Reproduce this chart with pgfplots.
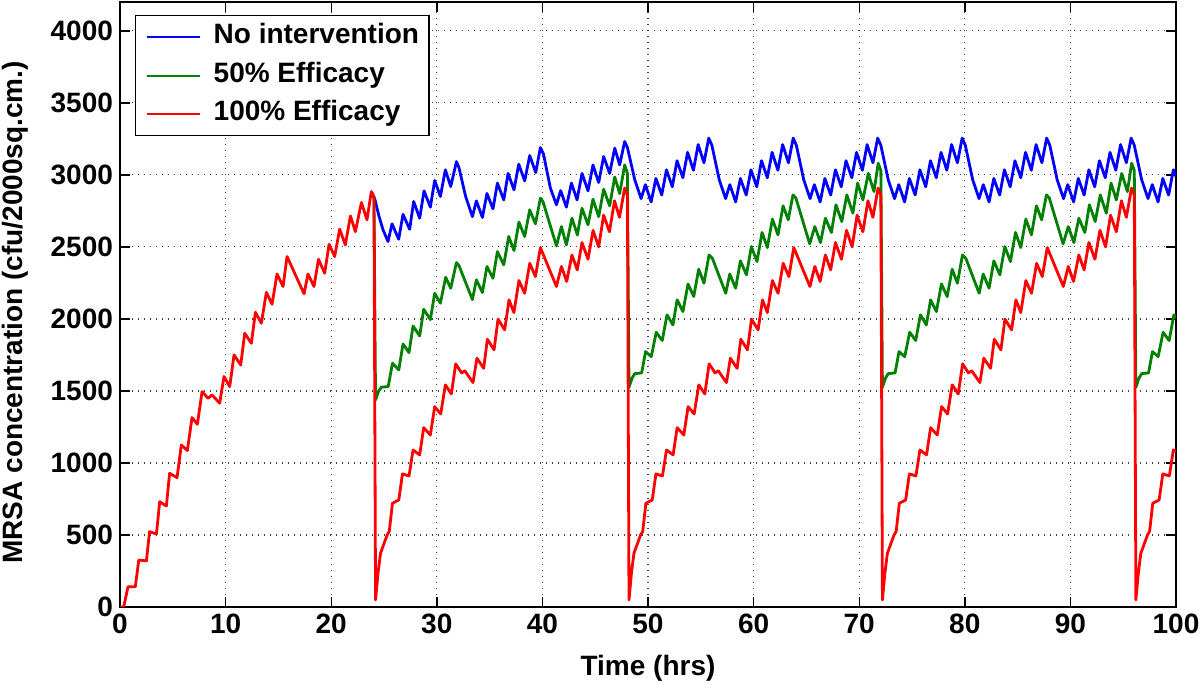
\documentclass[border=0pt]{standalone}
\usepackage{fontspec}
\setmainfont{Liberation Sans}
\usepackage{pgfplots}
\pgfplotsset{compat=1.18}
\definecolor{mblue}{RGB}{0,0,255}
\definecolor{mgreen}{RGB}{0,128,0}
\definecolor{mred}{RGB}{255,0,0}
\begin{document}
\begin{tikzpicture}
\useasboundingbox (-60pt,-39pt) rectangle (540pt,303.5pt);
\begin{axis}[
  at={(0pt,0pt)}, anchor=south west,
  scale only axis, width=528pt, height=302.5pt,
  xmin=0, xmax=100, ymin=0, ymax=4200,
  xtick={0,10,...,100}, ytick={0,500,...,4000},
  tick align=inside, tick pos=both, major tick length=5pt,
  grid=major,
  major grid style={black!75, line width=0.6pt, dash pattern=on 0.6pt off 2.4pt},
  axis line style={line width=0.7pt},
  every tick/.style={black, line width=0.7pt},
  tick label style={font=\fontsize{14}{16}\selectfont\bfseries},
  /pgf/number format/assume math mode=true,
  /pgf/number format/1000 sep={},
  xlabel={Time (hrs)},
  ylabel={MRSA concentration (cfu/2000sq.cm.)},
  every axis x label/.style={at={(axis description cs:0.5,-0.1008)}, anchor=center, font=\fontsize{14}{16}\selectfont\bfseries},
  every axis y label/.style={at={(axis description cs:-0.0994,0.487)}, anchor=center, rotate=90, font=\fontsize{14}{16}\selectfont\bfseries},
  legend cell align=left,
  legend style={at={(rel axis cs:0.0142,0.9785)}, anchor=north west, draw=black, line width=0.7pt, fill=white,
    font=\fontsize{14}{16}\selectfont\bfseries, inner xsep=5pt, inner ysep=1.1pt,
    nodes={inner xsep=0pt, inner ysep=3pt, text height=10pt, text depth=3.2pt}},
  legend image code/.code={\draw[#1, line width=1pt] (0pt,0pt) -- (26.5pt,0pt); \path[draw=none] (0pt,0pt) -- (33.5pt,0pt);},
  every axis plot/.append style={line width=1.4pt, line join=round},
]
% No intervention
\addplot[mblue] coordinates {
(23.8,2884) (24.15,2826) (24.5,2720) (24.9,2620) (25.38,2537) (25.76,2660) (26.39,2553) (26.8,2726)
(27.43,2622) (27.81,2815) (28.38,2699) (28.79,2889) (29.39,2776) (29.8,2961) (30.34,2850) (30.81,3035)
(31.32,2919) (31.86,3092) (32.1,3050) (32.73,2850) (33.37,2710) (33.75,2819) (34.32,2704) (34.75,2871)
(35.32,2764) (35.74,2943) (36.34,2826) (36.75,3010) (37.31,2896) (37.76,3074) (38.32,2958) (38.8,3134)
(39.37,3016) (39.81,3190) (40.1,3145) (40.75,2910) (41.33,2792) (41.73,2891) (42.27,2776) (42.75,2943)
(43.28,2826) (43.75,3010) (44.32,2889) (44.79,3069) (45.33,2947) (45.8,3127) (46.37,3010) (46.85,3185)
(47.32,3069) (47.79,3231)
(48.05,3190) (48.75,2965) (49.35,2835) (49.75,2932) (50.3,2812) (50.75,2975) (51.3,2860) (51.75,3035)
(52.3,2917) (52.75,3098) (53.3,2980) (53.75,3156) (54.3,3032) (54.75,3210) (55.3,3084) (55.75,3255)
(56.05,3205) (56.75,2965) (57.35,2835) (57.75,2932) (58.3,2812) (58.75,2975) (59.3,2860) (59.75,3035)
(60.3,2917) (60.75,3098) (61.3,2980) (61.75,3156) (62.3,3032) (62.75,3210) (63.3,3084) (63.75,3255)
(64.05,3205) (64.75,2965) (65.35,2835) (65.75,2932) (66.3,2812) (66.75,2975) (67.3,2860) (67.75,3035)
(68.3,2917) (68.75,3098) (69.3,2980) (69.75,3156) (70.3,3032) (70.75,3210) (71.3,3084) (71.75,3255)
(72.05,3205) (72.75,2965) (73.35,2835) (73.75,2932) (74.3,2812) (74.75,2975) (75.3,2860) (75.75,3035)
(76.3,2917) (76.75,3098) (77.3,2980) (77.75,3156) (78.3,3032) (78.75,3210) (79.3,3084) (79.75,3255)
(80.05,3205) (80.75,2965) (81.35,2835) (81.75,2932) (82.3,2812) (82.75,2975) (83.3,2860) (83.75,3035)
(84.3,2917) (84.75,3098) (85.3,2980) (85.75,3156) (86.3,3032) (86.75,3210) (87.3,3084) (87.75,3255)
(88.05,3205) (88.75,2965) (89.35,2835) (89.75,2932) (90.3,2812) (90.75,2975) (91.3,2860) (91.75,3035)
(92.3,2917) (92.75,3098) (93.3,2980) (93.75,3156) (94.3,3032) (94.75,3210) (95.3,3084) (95.75,3255)
(96.05,3205) (96.75,2965) (97.35,2835) (97.75,2932) (98.3,2812) (98.75,2975) (99.3,2860) (99.75,3035)
(100,2990)
};
\addlegendentry{No intervention}
% 50% efficacy
\addplot[mgreen] coordinates {
(23.8,2884) (24.05,2845) (24.2,1438) (24.5,1500) (24.75,1526) (25.4,1530) (25.8,1692) (26.4,1646)
(26.8,1826) (27.37,1766) (27.75,1951) (28.38,1882) (28.76,2067) (29.39,1995) (29.8,2178) (30.34,2109)
(30.84,2289) (31.32,2213) (31.86,2391) (32.1,2370) (33.37,2134) (33.75,2271) (34.32,2183) (34.75,2364)
(35.32,2282) (35.74,2467) (36.34,2375) (36.81,2572) (37.31,2475) (37.78,2672) (38.32,2572) (38.8,2757)
(39.34,2660) (39.81,2838) (40.05,2815) (41.33,2507) (41.8,2641) (42.27,2514) (42.8,2699) (43.31,2583)
(43.75,2768) (44.32,2653) (44.79,2831) (45.33,2710) (45.8,2900) (46.37,2785) (46.85,2985) (47.32,2870)
(47.79,3069) (48.05,3010)
(48.2,1526) (48.5,1590) (48.75,1620) (49.4,1625) (49.77,1773) (50.31,1738) (50.78,1907) (51.35,1850)
(51.8,2028) (52.36,1958) (52.76,2132) (53.31,2051) (53.79,2243) (54.33,2155) (54.8,2345) (55.3,2248)
(55.78,2444) (56.1,2420) (57.36,2178) (57.74,2312) (58.3,2213) (58.75,2403) (59.32,2306) (59.79,2502)
(60.32,2398) (60.8,2600) (61.3,2495) (61.78,2693) (62.31,2583) (62.79,2785) (63.28,2688) (63.73,2861)
(64.0,2840) (65.31,2521) (65.8,2641) (66.33,2530) (66.8,2699) (67.37,2600) (67.8,2792) (68.35,2676)
(68.83,2861) (69.4,2734) (69.85,2943) (70.35,2826) (70.86,3010) (71.4,2884) (71.8,3081) (72.05,3030)
(72.2,1526) (72.5,1590) (72.75,1620) (73.4,1625) (73.77,1773) (74.31,1738) (74.78,1907) (75.35,1850)
(75.8,2028) (76.36,1958) (76.76,2132) (77.31,2051) (77.79,2243) (78.33,2155) (78.8,2345) (79.3,2248)
(79.78,2444) (80.1,2420) (81.36,2178) (81.74,2312) (82.3,2213) (82.75,2403) (83.32,2306) (83.79,2502)
(84.32,2398) (84.8,2600) (85.3,2495) (85.78,2693) (86.31,2583) (86.79,2785) (87.28,2688) (87.73,2861)
(88.0,2840) (89.31,2521) (89.8,2641) (90.33,2530) (90.8,2699) (91.37,2600) (91.8,2792) (92.35,2676)
(92.83,2861) (93.4,2734) (93.85,2943) (94.35,2826) (94.86,3010) (95.4,2884) (95.8,3081) (96.05,3030)
(96.2,1526) (96.5,1590) (96.75,1620) (97.4,1625) (97.77,1773) (98.31,1738) (98.78,1907) (99.35,1850)
(99.8,2028) (100,2005)
};
\addlegendentry{50\% Efficacy}
% 100% efficacy
\addplot[mred] coordinates {
(0,0) (0.35,0) (0.76,141) (1.45,140) (1.78,326) (2.5,320) (2.8,523) (3.45,507)
(3.76,731) (4.39,701) (4.7,928) (5.4,898) (5.81,1125) (6.38,1086) (6.82,1315) (7.33,1269)
(7.77,1495) (8.34,1449) (8.72,1472) (9.44,1415) (9.85,1600) (10.39,1530) (10.8,1750) (11.43,1680)
(11.81,1900) (12.44,1831) (12.82,2046) (13.39,1970) (13.86,2185) (14.4,2102) (14.87,2312) (15.44,2225)
(15.82,2433) (17.43,2174) (17.8,2312) (18.37,2225) (18.8,2414) (19.38,2317) (19.8,2518) (20.33,2433)
(20.8,2623) (21.34,2514) (21.82,2715) (22.29,2606) (22.86,2808) (23.39,2688) (23.8,2884) (24.05,2845)
(24.2,49) (24.43,234) (24.67,373) (25.0,440) (25.3,500) (25.5,525) (25.8,720) (26.4,743)
(26.75,924) (27.37,910) (27.75,1090) (28.38,1056) (28.76,1245) (29.39,1194) (29.8,1391) (30.37,1340)
(30.81,1542) (31.38,1479) (31.79,1688) (32.35,1625) (32.65,1640) (33.43,1558) (33.8,1727) (34.44,1657)
(34.79,1859) (35.42,1785) (35.8,1998) (36.43,1924) (36.84,2132) (37.3,2044) (37.78,2266) (38.32,2178)
(38.8,2386) (39.34,2294) (39.81,2495) (41.33,2225) (41.8,2364) (42.3,2260) (42.8,2444) (43.3,2340)
(43.75,2530) (44.32,2414) (44.8,2615) (45.33,2500) (45.8,2720) (46.35,2605) (46.83,2820) (47.3,2705)
(47.79,2908) (48.05,2860)
(48.2,49) (48.43,234) (48.67,373) (49.0,440) (49.3,500) (49.5,525) (49.8,720) (50.4,743)
(50.75,924) (51.37,910) (51.75,1090) (52.38,1056) (52.76,1245) (53.39,1194) (53.8,1391) (54.37,1340)
(54.81,1542) (55.38,1479) (55.79,1688) (56.35,1625) (56.65,1640) (57.43,1558) (57.8,1727) (58.44,1657)
(58.79,1859) (59.42,1785) (59.8,1998) (60.43,1924) (60.84,2132) (61.3,2044) (61.78,2266) (62.32,2178)
(62.8,2386) (63.34,2294) (63.81,2495) (65.33,2225) (65.8,2364) (66.3,2260) (66.8,2444) (67.3,2340)
(67.75,2530) (68.32,2414) (68.8,2615) (69.33,2500) (69.8,2720) (70.35,2605) (70.83,2820) (71.3,2705)
(71.79,2908) (72.05,2860)
(72.2,49) (72.43,234) (72.67,373) (73.0,440) (73.3,500) (73.5,525) (73.8,720) (74.4,743)
(74.75,924) (75.37,910) (75.75,1090) (76.38,1056) (76.76,1245) (77.39,1194) (77.8,1391) (78.37,1340)
(78.81,1542) (79.38,1479) (79.79,1688) (80.35,1625) (80.65,1640) (81.43,1558) (81.8,1727) (82.44,1657)
(82.79,1859) (83.42,1785) (83.8,1998) (84.43,1924) (84.84,2132) (85.3,2044) (85.78,2266) (86.32,2178)
(86.8,2386) (87.34,2294) (87.81,2495) (89.33,2225) (89.8,2364) (90.3,2260) (90.8,2444) (91.3,2340)
(91.75,2530) (92.32,2414) (92.8,2615) (93.33,2500) (93.8,2720) (94.35,2605) (94.83,2820) (95.3,2705)
(95.79,2908) (96.05,2860)
(96.2,49) (96.43,234) (96.67,373) (97.0,440) (97.3,500) (97.5,525) (97.8,720) (98.4,743)
(98.75,924) (99.37,910) (99.75,1090) (100,1080)
};
\addlegendentry{100\% Efficacy}
\end{axis}
\end{tikzpicture}
\end{document}
